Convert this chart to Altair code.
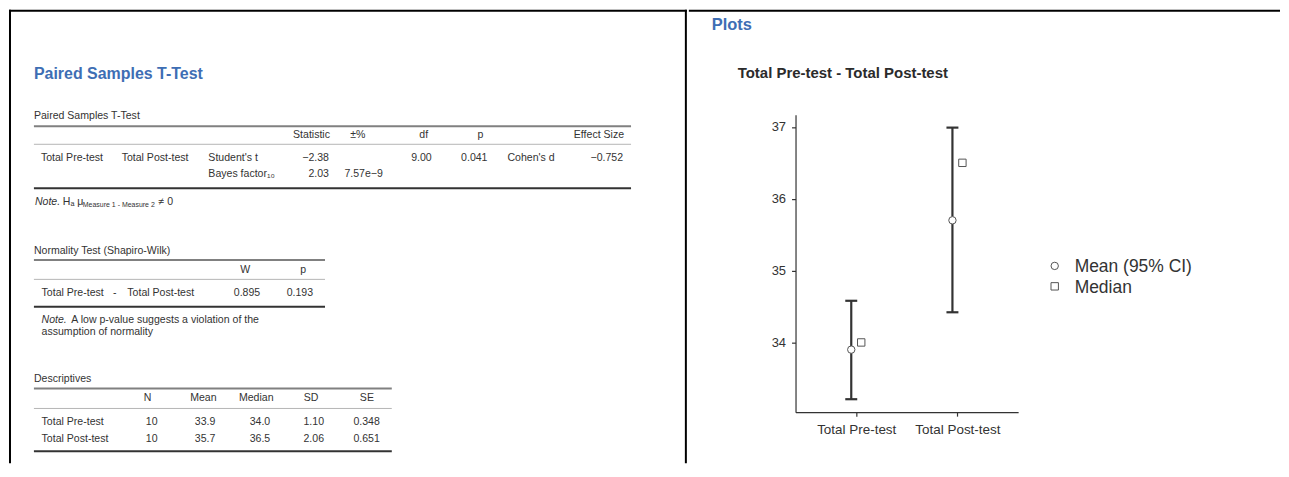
import altair as alt
import pandas as pd

# ---------------- data ----------------
var_pre = "Total Pre-test"
var_post = "Total Post-test"

ttest_headers = ["Statistic", "±%", "df", "p", "Effect Size"]
ttest_tests = ["Student's t", "Bayes factor₁₀"]
ttest_statistic = [-2.38, 2.03]
ttest_error_pct = "7.57e−9"
ttest_df = 9.00
ttest_p = 0.041
ttest_es_label = "Cohen's d"
ttest_es_value = -0.752

norm_headers = ["W", "p"]
norm_W = 0.895
norm_p = 0.193

desc_headers = ["N", "Mean", "Median", "SD", "SE"]
desc_names = ["Total Pre-test", "Total Post-test"]
desc_N = [10, 10]
desc_mean = [33.9, 35.7]
desc_median = [34.0, 36.5]
desc_sd = [1.10, 2.06]
desc_se = [0.348, 0.651]

plot_categories = ["Total Pre-test", "Total Post-test"]
plot_mean = [33.9, 35.7]
plot_ci_low = [33.21, 34.42]
plot_ci_high = [34.58, 36.99]
plot_median = [34.0, 36.5]
y_ticks = [34, 35, 36, 37]
legend_labels = ["Mean (95% CI)", "Median"]

# ---------------- styles ----------------
FONT = "Liberation Sans"
BLUE = "#3e6eb4"
TXT = "#333333"
FS = 10.6


def fmt(v, d):
    return f"{v:.{d}f}".replace("-", "−")


texts = []


def add(x, y, text, align="left", size=FS, style="normal", weight="normal", color=TXT):
    texts.append(dict(x=x, y=y, text=text, align=align, size=size,
                      style=style, weight=weight, color=color))


lines = []


def hline(x1, x2, y, w, c):
    lines.append(dict(x=x1, x2=x2, y=y, w=w, c=c))


LINE_TOP = "#808080"
LINE_MID = "#b5b5b5"
LINE_BOT = "#333333"

# ---- Paired Samples T-Test ----
add(33, 73, "Paired Samples T-Test", size=16, weight="bold", color=BLUE)
add(33, 115, "Paired Samples T-Test")
hline(33, 632, 125, 2, LINE_TOP)
hx = [(330, "right"), (358, "center"), (424, "center"), (481, "center"), (625, "right")]
for (x, a), h in zip(hx, ttest_headers):
    add(x, 134, h, a)
hline(33, 632, 143, 1, LINE_MID)
add(40, 157, var_pre)
add(121, 157, var_post)
add(208, 157, ttest_tests[0])
add(329, 157, fmt(ttest_statistic[0], 2), "right")
add(432, 157, fmt(ttest_df, 2), "right")
add(488, 157, fmt(ttest_p, 3), "right")
add(508, 157, ttest_es_label)
add(624, 157, fmt(ttest_es_value, 3), "right")
add(208, 173, ttest_tests[1])
add(329, 173, fmt(ttest_statistic[1], 2), "right")
add(383, 173, ttest_error_pct, "right")
hline(33, 632, 187, 2, LINE_BOT)
add(34, 201, "Note.", style="italic")
add(62, 201, "Hₐ μ")
add(82, 203.5, "Measure 1 - Measure 2", size=7)
add(158, 201, "≠ 0")

# ---- Normality ----
add(33, 250, "Normality Test (Shapiro-Wilk)")
hline(33, 325, 259, 2, LINE_TOP)
add(245, 269, norm_headers[0], "center")
add(303, 269, norm_headers[1], "center")
hline(33, 325, 278.5, 1, LINE_MID)
add(40.7, 292, var_pre)
add(114, 292, "-", "center")
add(126.7, 292, var_post)
add(260, 292, fmt(norm_W, 3), "right")
add(313, 292, fmt(norm_p, 3), "right")
hline(33, 325, 306, 2, LINE_BOT)
add(40.7, 319.5, "Note.", style="italic")
add(70.5, 319.5, "A low p-value suggests a violation of the")
add(40.7, 331, "assumption of normality")

# ---- Descriptives ----
add(33, 378, "Descriptives")
hline(33, 392, 388, 2, LINE_TOP)
for x, h in zip([147, 203, 256, 311, 367], desc_headers):
    add(x, 398, h, "center")
hline(33, 392, 408, 1, LINE_MID)
for i, ry in enumerate([422, 438.5]):
    add(40.7, ry, desc_names[i])
    add(157, ry, str(desc_N[i]), "right")
    add(215, ry, fmt(desc_mean[i], 1), "right")
    add(270, ry, fmt(desc_median[i], 1), "right")
    add(324, ry, fmt(desc_sd[i], 2), "right")
    add(380, ry, fmt(desc_se[i], 3), "right")
hline(33, 392, 451, 2, LINE_BOT)

LW, RW, H = 680, 593, 455
xs = alt.Scale(domain=[8, 8 + LW], range=[0, LW], nice=False, zero=False)
ys = alt.Scale(domain=[8, 8 + H], range=[0, H], nice=False, zero=False)

tdf = pd.DataFrame(texts)
left_layers = []
for (a, s, w), g in tdf.groupby(["align", "style", "weight"]):
    left_layers.append(
        alt.Chart(g).mark_text(align=a, baseline="middle", font=FONT,
                               fontStyle=s, fontWeight=w).encode(
            x=alt.X("x:Q", scale=xs, axis=None),
            y=alt.Y("y:Q", scale=ys, axis=None),
            text="text:N",
            size=alt.Size("size:Q", scale=None, legend=None),
            color=alt.Color("color:N", scale=None, legend=None),
        )
    )
left_layers.append(
    alt.Chart(pd.DataFrame(lines)).mark_rule().encode(
        x=alt.X("x:Q", scale=xs, axis=None),
        x2="x2:Q",
        y=alt.Y("y:Q", scale=ys, axis=None),
        strokeWidth=alt.StrokeWidth("w:Q", scale=None, legend=None),
        color=alt.Color("c:N", scale=None, legend=None),
    )
)
# frame lines (left border, top border, divider)
left_layers.append(alt.Chart().mark_rule(color="black", strokeWidth=2).encode(
    x=alt.value(1), y=alt.value(0), y2=alt.value(H)))
left_layers.append(alt.Chart().mark_rule(color="black", strokeWidth=2).encode(
    x=alt.value(0), x2=alt.value(LW), y=alt.value(1)))
left_layers.append(alt.Chart().mark_rule(color="black", strokeWidth=2).encode(
    x=alt.value(679), y=alt.value(0), y2=alt.value(H)))

left = alt.layer(*left_layers).properties(width=LW, height=H)

# ---------------- right panel: the plot ----------------
pdf = pd.DataFrame({
    "cat": plot_categories,
    "mean": plot_mean,
    "lo": plot_ci_low,
    "hi": plot_ci_high,
    "median": plot_median,
    "mstat": [legend_labels[0]] * 2,
    "dstat": [legend_labels[1]] * 2,
})

x_enc = alt.X(
    "cat:N", sort=plot_categories, title=None,
    scale=alt.Scale(type="point", domain=plot_categories, range=[107, 330.3], padding=0.6),
    axis=alt.Axis(labelAngle=0, labelFontSize=13.5, labelColor=TXT, labelFont=FONT,
                  tickSize=4, tickColor="#333", domainColor="#333", domainWidth=1.2,
                  tickWidth=1.2, labelPadding=6, offset=-51.3, grid=False),
)
y_scale = alt.Scale(domain=[33.03, 37.17], range=[403.7, 105.3], nice=False, zero=False)
y_axis = alt.Axis(values=y_ticks, format="d", labelFontSize=13, labelColor=TXT,
                  labelFont=FONT, tickSize=4, tickColor="#333", domainColor="#333",
                  domainWidth=1.2, tickWidth=1.2, labelPadding=6, offset=-107, grid=False)

shape_scale = alt.Scale(domain=legend_labels, range=["circle", "square"])
PT_SIZE = 55
PT_STYLE = dict(size=PT_SIZE, fill="white", stroke="#555", strokeWidth=1,
                opacity=1, fillOpacity=1)

bar = alt.Chart(pdf).mark_rule(xOffset=-5, strokeWidth=2.2, color="#333").encode(
    x=x_enc, y=alt.Y("lo:Q", scale=y_scale, axis=y_axis, title=None), y2="hi:Q")
cap_lo = alt.Chart(pdf).mark_tick(xOffset=-5, size=12, thickness=2.2, color="#333",
                                  orient="horizontal", opacity=1).encode(
    x=x_enc, y=alt.Y("lo:Q", scale=y_scale))
cap_hi = alt.Chart(pdf).mark_tick(xOffset=-5, size=12, thickness=2.2, color="#333",
                                  orient="horizontal", opacity=1).encode(
    x=x_enc, y=alt.Y("hi:Q", scale=y_scale))
mean_pts = alt.Chart(pdf).mark_point(xOffset=-5, **PT_STYLE).encode(
    x=x_enc, y=alt.Y("mean:Q", scale=y_scale),
    shape=alt.Shape("mstat:N", scale=shape_scale, legend=None))
med_pts = alt.Chart(pdf).mark_point(xOffset=5, **PT_STYLE).encode(
    x=x_enc, y=alt.Y("median:Q", scale=y_scale),
    shape=alt.Shape("dstat:N", scale=shape_scale, legend=None))

# legend (drawn as symbol + label entries to the right of the plot)
legend_layers = []
for i, lab in enumerate(legend_labels):
    ldf = pd.DataFrame({"label": [lab]})
    sy = 257 + 20.5 * i
    legend_layers.append(
        alt.Chart(ldf).mark_point(**PT_STYLE).encode(
            x=alt.value(367), y=alt.value(sy),
            shape=alt.Shape("label:N", scale=shape_scale, legend=None)))
    legend_layers.append(
        alt.Chart(ldf).mark_text(align="left", baseline="middle", font=FONT,
                                 fontSize=17.5, color=TXT).encode(
            x=alt.value(387), y=alt.value(sy + 1.5), text="label:N"))

plots_head = alt.Chart(pd.DataFrame({"t": ["Plots"]})).mark_text(
    align="left", baseline="middle", font=FONT, fontWeight="bold", fontSize=16.5,
    color=BLUE).encode(x=alt.value(23), y=alt.value(15), text="t:N")
plot_title = alt.Chart(pd.DataFrame({"t": ["Total Pre-test - Total Post-test"]})).mark_text(
    align="left", baseline="middle", font=FONT, fontWeight="bold", fontSize=15,
    color="#2b2b2b").encode(x=alt.value(49), y=alt.value(64), text="t:N")
top_border = alt.Chart().mark_rule(color="black", strokeWidth=2).encode(
    x=alt.value(0), x2=alt.value(RW), y=alt.value(1))

right = alt.layer(top_border, plots_head, plot_title, bar, cap_lo, cap_hi,
                  mean_pts, med_pts, *legend_layers).properties(width=RW, height=H)

chart = alt.hconcat(left, right, spacing=0).properties(
    padding=0, background="white"
).configure(font=FONT).configure_view(strokeWidth=0)

chart.save("out.html", embed_options={"renderer": "svg", "actions": False})
